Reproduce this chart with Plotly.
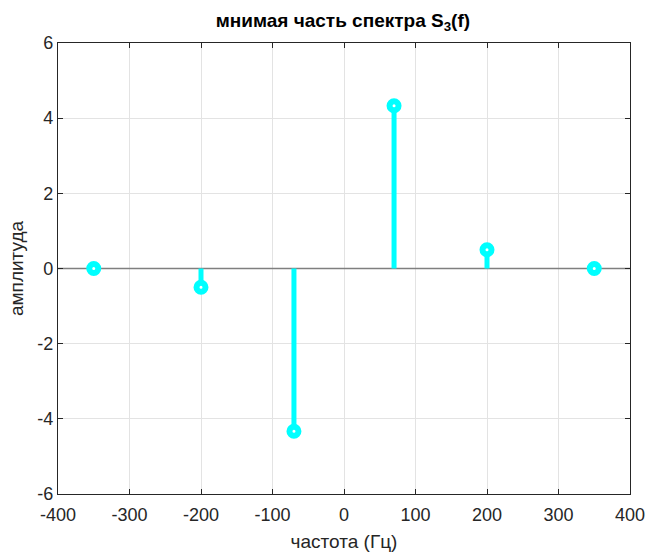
import plotly.graph_objects as go

# Spectrum: imaginary part at discrete frequencies
freqs = [-350, -200, -70, 70, 200, 350]
imag_part = [0.0, -0.5, -4.33, 4.33, 0.5, 0.0]

x_ticks = [-400, -300, -200, -100, 0, 100, 200, 300, 400]
y_ticks = [-6, -4, -2, 0, 2, 4, 6]
x_tick_text = [str(v) for v in x_ticks]
y_tick_text = [str(v) for v in y_ticks]

CYAN = "#00FFFF"
AXIS = "#262626"
FONT = "Liberation Sans, Arial"

fig = go.Figure()

# baseline across the whole axis
fig.add_trace(go.Scatter(
    x=[x_ticks[0], x_ticks[-1]], y=[0, 0], mode="lines",
    line=dict(color="#7f7f7f", width=1.5), hoverinfo="skip", showlegend=False,
))

# stems
sx, sy = [], []
for f, v in zip(freqs, imag_part):
    sx += [f, f, None]
    sy += [0, v, None]
fig.add_trace(go.Scatter(
    x=sx, y=sy, mode="lines",
    line=dict(color=CYAN, width=5), hoverinfo="skip", showlegend=False,
))

# stem heads
fig.add_trace(go.Scatter(
    x=freqs, y=imag_part, mode="markers",
    marker=dict(symbol="circle", size=9, color="white",
                line=dict(color=CYAN, width=6)),
    showlegend=False,
))

axis_common = dict(
    showline=True, linecolor=AXIS, linewidth=1.2, mirror="ticks",
    ticks="inside", ticklen=5, tickcolor=AXIS, tickwidth=1,
    showgrid=True, gridcolor="#e3e3e3", gridwidth=1, zeroline=False,
    automargin=False,
    tickfont=dict(family=FONT, size=18, color=AXIS),
)

fig.update_layout(
    width=647, height=552,
    margin=dict(l=58, r=17, t=43, b=58),
    paper_bgcolor="white", plot_bgcolor="white",
    title=dict(
        text="<b>мнимая часть спектра S<sub>3</sub>(f)</b>",
        x=0.53, xanchor="center", y=0.976, yanchor="top",
        font=dict(family=FONT, size=19, color="black"),
    ),
    xaxis=dict(
        range=[-400, 400], tickvals=x_ticks, ticktext=x_tick_text,
        ticklabelstandoff=4,
        title=dict(text="частота (Гц)", standoff=10,
                   font=dict(family=FONT, size=19, color=AXIS)),
        **axis_common,
    ),
    yaxis=dict(
        range=[-6, 6], tickvals=y_ticks, ticktext=y_tick_text,
        title=dict(text="амплитуда", standoff=8,
                   font=dict(family=FONT, size=19, color=AXIS)),
        **axis_common,
    ),
)

fig.write_html("out.html")
